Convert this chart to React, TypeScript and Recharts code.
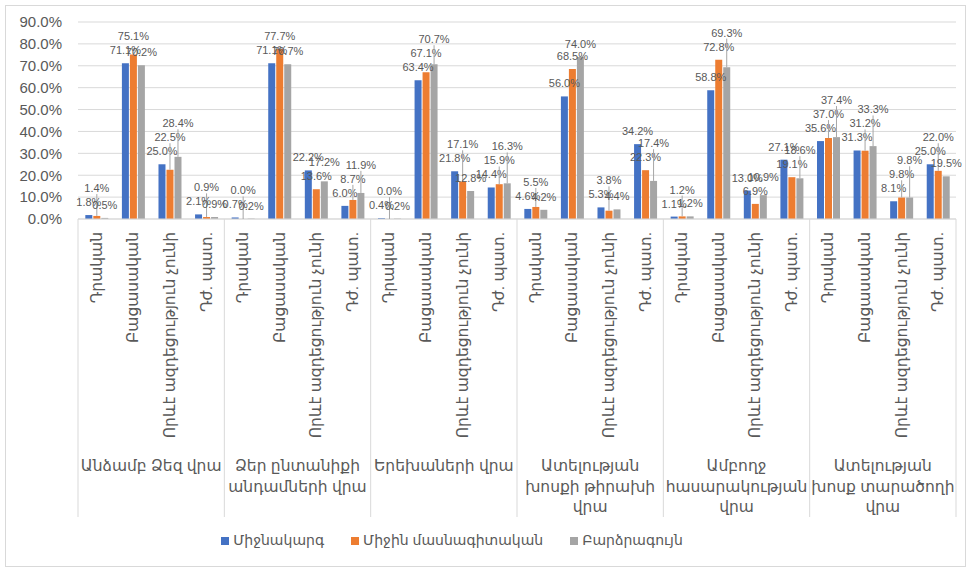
import React from 'react';
import { BarChart, Bar, XAxis, YAxis, CartesianGrid, Legend, LabelList } from 'recharts';

const groupNames: string[][] = [
  ['Անձամբ Ձեզ վրա'],
  ['Ձեր ընտանիքի', 'անդամների վրա'],
  ['Երեխաների վրա'],
  ['Ատելության', 'խոսքի թիրախի', 'վրա'],
  ['Ամբողջ', 'հասարակության', 'վրա'],
  ['Ատելության', 'խոսք տարածողի', 'վրա'],
];
const subCategories = ['Դրական', 'Բացասական', 'Որևէ ազդեցություն չունի', 'Դժ. պատ.'];
const seriesNames = ['Միջնակարգ', 'Միջին մասնագիտական', 'Բարձրագույն'];

const secondary = [
  1.8, 71.1, 25.0, 2.1,
  0.7, 71.1, 22.2, 6.0,
  0.4, 63.4, 21.8, 14.4,
  4.6, 56.0, 5.3, 34.2,
  1.1, 58.8, 13.0, 27.1,
  35.6, 31.3, 8.1, 25.0,
];
const vocational = [
  1.4, 75.1, 22.5, 0.9,
  0.0, 77.7, 13.6, 8.7,
  0.0, 67.1, 17.1, 15.9,
  5.5, 68.5, 3.8, 22.3,
  1.2, 72.8, 6.9, 19.1,
  37.0, 31.2, 9.8, 22.0,
];
const higher = [
  0.5, 70.2, 28.4, 0.9,
  0.2, 70.7, 17.2, 11.9,
  0.2, 70.7, 12.8, 16.3,
  4.2, 74.0, 4.4, 17.4,
  1.2, 69.3, 10.9, 18.6,
  37.4, 33.3, 9.8, 19.5,
];
const yTicks = [0, 10, 20, 30, 40, 50, 60, 70, 80, 90];

const W = 970;
const H = 571;
const PLOT_L = 78;
const PLOT_R = 956;
const PLOT_T = 22;
const PLOT_B = 219;
const Y_MAX = 90;
const BAR_GAP = 1;
const COLORS = ['#4472C4', '#ED7D31', '#A5A5A5'];
const TEXT = '#595959';
const LINE = '#D9D9D9';
const FONT = "'Liberation Sans', 'DejaVu Sans', sans-serif";
const KEYS = ['s0', 's1', 's2'];

const rows = secondary.map((v, i) => ({
  id: String(i),
  group: Math.floor(i / subCategories.length),
  subIndex: i % subCategories.length,
  sub: subCategories[i % subCategories.length],
  s0: v,
  s1: vocational[i],
  s2: higher[i],
}));

const BAND = (PLOT_R - PLOT_L) / rows.length;
const PX_PER_UNIT = (PLOT_B - PLOT_T) / Y_MAX;
const SEP_BOTTOM = 517;

// Draws the three data labels of one category, anchored on the first series' bar.
const CategoryLabels = (p: any) => {
  const vb = p.viewBox || {};
  const x = vb.x ?? p.x;
  const y = vb.y ?? p.y;
  const width = vb.width ?? p.width;
  if (x == null || y == null || width == null) return null;
  const index = Math.floor((x + width / 2 - PLOT_L) / BAND);
  const row: any = rows[index];
  if (!row) return null;
  const vals = KEYS.map((key) => row[key] as number);
  const tops = vals.map((v) => y + (vals[0] - v) * PX_PER_UNIT);
  const xs = vals.map((_, j) => x + width / 2 + j * (width + BAR_GAP));
  const c: number[] = [];
  c[0] = tops[0] - 13;
  for (let j = 1; j < vals.length; j++) {
    let cand = tops[j] - 13;
    if (Math.abs(cand - c[j - 1]) < 12) cand = c[j - 1] - 14;
    c[j] = cand;
  }
  return (
    <g>
      {vals.map((v, j) => (
        <g key={j}>
          {tops[j] - c[j] > 20 && (
            <line x1={xs[j]} x2={xs[j]} y1={tops[j]} y2={c[j] + 6} stroke="#A6A6A6" strokeWidth={1} />
          )}
          <text
            x={xs[j]}
            y={c[j]}
            textAnchor="middle"
            dominantBaseline="central"
            fontSize={11}
            fill={TEXT}
            fontFamily={FONT}
          >
            {`${v.toFixed(1)}%`}
          </text>
        </g>
      ))}
    </g>
  );
};

const AxisTick = (p: any) => {
  const { x, y } = p;
  const index = p.index ?? p.payload?.index;
  const row = rows[index];
  if (!row) return null;
  const ty = y + 13;
  return (
    <g>
      <text
        x={x}
        y={ty}
        transform={`rotate(-90 ${x} ${ty})`}
        textAnchor="end"
        dominantBaseline="central"
        fontSize={15.5}
        fill={TEXT}
        fontFamily={FONT}
      >
        {row.sub}
      </text>
      {row.subIndex === 0 && (
        <line x1={x - BAND / 2} x2={x - BAND / 2} y1={y} y2={SEP_BOTTOM} stroke={LINE} />
      )}
      {index === rows.length - 1 && (
        <line x1={x + BAND / 2} x2={x + BAND / 2} y1={y} y2={SEP_BOTTOM} stroke={LINE} />
      )}
      {row.subIndex === 0 && (
        <text
          x={x + 1.5 * BAND}
          y={y + 246}
          textAnchor="middle"
          dominantBaseline="central"
          fontSize={15.5}
          fill={TEXT}
          fontFamily={FONT}
        >
          {groupNames[row.group].map((line, li) => (
            <tspan key={li} x={x + 1.5 * BAND} dy={li === 0 ? 0 : 20.5}>
              {line}
            </tspan>
          ))}
        </text>
      )}
    </g>
  );
};

export default function App() {
  return (
    <div style={{ position: 'absolute', left: 0, top: 0, width: W, height: H, background: '#fff', fontFamily: FONT }}>
      <div
        style={{
          position: 'absolute',
          left: 5,
          top: 5,
          width: 961,
          height: 562,
          border: `1px solid ${LINE}`,
          boxSizing: 'border-box',
        }}
      />
      <BarChart
        width={W}
        height={H}
        data={rows}
        margin={{ top: PLOT_T, right: W - PLOT_R, bottom: 0, left: PLOT_L - 60 }}
        barCategoryGap="20%"
        barGap={BAR_GAP}
      >
        <CartesianGrid vertical={false} stroke={LINE} />
        <XAxis
          dataKey="id"
          type="category"
          interval={0}
          height={H - PLOT_B}
          tickLine={false}
          tickSize={0}
          tickMargin={0}
          axisLine={{ stroke: LINE }}
          tick={<AxisTick />}
        />
        <YAxis
          type="number"
          domain={[0, Y_MAX]}
          ticks={yTicks}
          interval={0}
          width={60}
          axisLine={false}
          tickLine={false}
          tickSize={8}
          tickMargin={8}
          tickFormatter={(v: number) => `${v.toFixed(1)}%`}
          tick={{ fill: TEXT, fontSize: 15, fontFamily: FONT }}
        />
        <Legend
          verticalAlign="middle"
          align="center"
          layout="horizontal"
          iconType="square"
          iconSize={8}
          itemSorter={(item: any) => seriesNames.indexOf(item.value)}
          wrapperStyle={{ top: 532, left: 0, width: 914, fontSize: 14, fontFamily: FONT }}
          formatter={(value: string) => (
            <span
              style={{
                color: TEXT,
                paddingRight: seriesNames.indexOf(value) < seriesNames.length - 1 ? 17 : 0,
              }}
            >
              {value}
            </span>
          )}
        />
        {KEYS.map((key, k) => (
          <Bar key={key} dataKey={key} name={seriesNames[k]} fill={COLORS[k]} isAnimationActive={false}>
            {k === 0 && <LabelList dataKey={key} content={CategoryLabels} />}
          </Bar>
        ))}
      </BarChart>
    </div>
  );
}
